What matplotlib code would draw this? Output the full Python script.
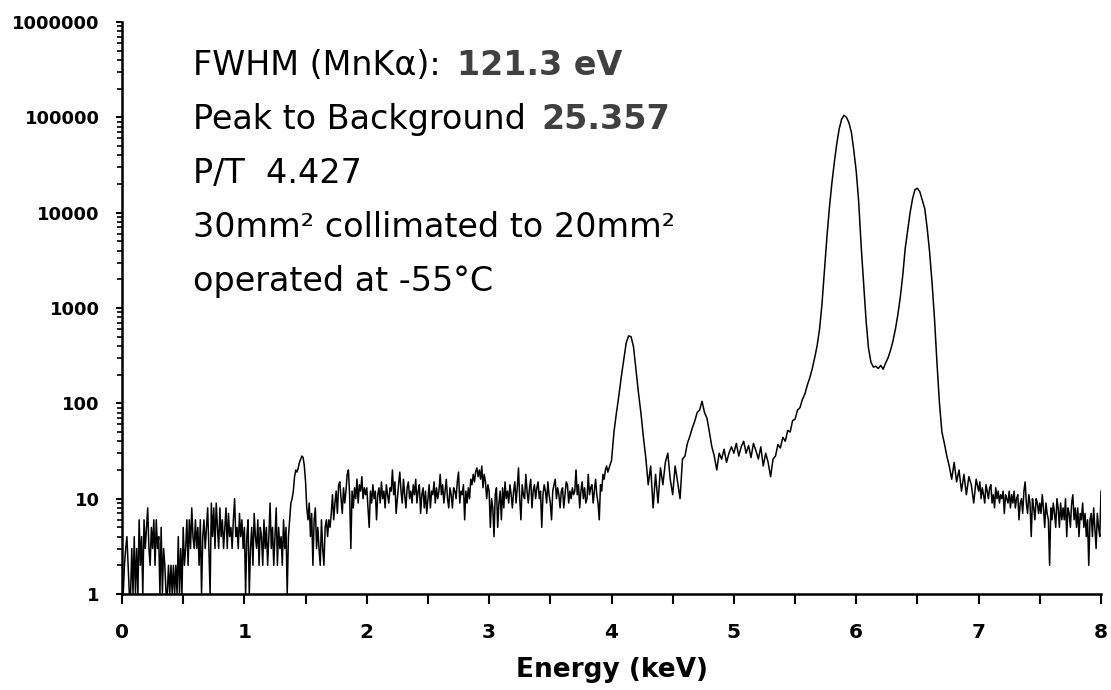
import numpy as np
import matplotlib.pyplot as plt
from matplotlib.ticker import MultipleLocator, LogLocator, FuncFormatter, NullFormatter

# spectrum counts, one list per keV (0.01 keV channels where noisy, 0.02 keV on the peaks)
counts_0 = [1, 1, 2, 3, 4, 2, 1, 1, 3, 1,
            4, 1, 3, 1, 6, 2, 4, 1, 6, 3,
            5, 8, 3, 2, 5, 3, 6, 2, 6, 3,
            4, 1, 5, 1, 3, 2, 1, 1, 2, 1,
            2, 1, 2, 1, 2, 1, 4, 1, 3, 1,
            5, 2, 3, 6, 2, 6, 3, 8, 4, 3,
            6, 3, 5, 2, 6, 1, 4, 6, 3, 5,
            8, 3, 1, 9, 4, 8, 3, 9, 5, 3,
            8, 4, 6, 3, 5, 8, 3, 7, 4, 5,
            3, 6, 10, 4, 5, 3, 7, 4, 6, 3]
counts_1 = [5, 1, 4, 6, 1, 3, 5, 2, 7, 4,
            3, 6, 2, 5, 4, 2, 6, 3, 5, 2,
            4, 9, 3, 5, 2, 4, 8, 2, 5, 3,
            4, 2, 6, 3, 5, 1, 4, 6, 9, 10,
            12, 17, 20, 19, 21, 24, 26, 28, 27, 22,
            15, 8, 6, 9, 4, 7, 2, 6, 8, 3,
            5, 3, 2, 6, 3, 2, 5, 6, 4, 6,
            5, 7, 11, 6, 9, 12, 7, 14, 15, 10,
            7, 13, 9, 12, 18, 20, 11, 3, 12, 8,
            13, 10, 16, 9, 14, 12, 17, 10, 13, 11]
counts_2 = [13, 8, 5, 12, 9, 14, 10, 12, 6, 11,
            13, 9, 15, 10, 12, 8, 14, 11, 9, 13,
            12, 20, 11, 15, 7, 10, 14, 19, 12, 9,
            16, 11, 8, 13, 15, 10, 12, 9, 14, 11,
            16, 9, 12, 14, 7, 11, 13, 8, 12, 7,
            10, 14, 8, 12, 11, 15, 9, 13, 10, 12,
            18, 11, 14, 9, 12, 16, 10, 8, 13, 11,
            8, 13, 12, 10, 15, 19, 9, 12, 11, 14,
            6, 12, 9, 13, 10, 16, 14, 18, 15, 19,
            21, 17, 20, 16, 22, 13, 18, 15, 10, 14]
counts_3 = [12, 5, 10, 8, 4, 11, 13, 5, 9, 12,
            6, 13, 8, 15, 10, 12, 9, 14, 11, 8,
            12, 15, 9, 13, 21, 10, 6, 14, 11, 10,
            18, 12, 9, 13, 16, 8, 12, 14, 10, 13,
            15, 10, 12, 5, 11, 14, 12, 9, 15, 11,
            9, 6, 12, 14, 16, 10, 13, 11, 8, 12,
            13, 8, 11, 15, 14, 9, 12, 10, 13, 11,
            12, 20, 11, 14, 8, 12, 15, 10, 13, 9,
            10, 18, 11, 13, 14, 9, 12, 16, 11, 9,
            6, 14, 12, 18, 16, 20, 22, 19, 21, 23]
counts_4 = [25, 50, 79, 120, 190, 285, 430, 510, 500, 390,
            224, 130, 80, 45, 27, 14, 22, 8, 18, 9,
            21, 14, 24, 30, 16, 11, 22, 15, 10, 26,
            28, 38, 45, 55, 65, 80, 85, 105, 80, 70,
            50, 35, 28, 20, 30, 26, 33, 24, 30, 35]
counts_5 = [30, 38, 28, 35, 40, 30, 36, 27, 38, 32,
            26, 35, 22, 30, 24, 17, 26, 28, 37, 34,
            44, 40, 52, 50, 66, 68, 85, 90, 110, 125,
            155, 185, 230, 300, 400, 600, 1100, 2500, 5500, 11000,
            20000, 33000, 52000, 75000, 95000, 105000, 100000, 88000, 70000, 45000]
counts_6 = [27000, 13000, 4500, 1800, 750, 380, 270, 240, 245, 232,
            250, 228, 265, 300, 360, 450, 600, 850, 1300, 2200,
            4200, 6500, 10000, 14000, 17500, 18000, 16500, 13500, 11000, 6800,
            3800, 1800, 750, 260, 100, 50, 38, 28, 22, 16,
            24, 15, 20, 12, 18, 11, 17, 14, 9, 16]
counts_7 = [12, 15, 10, 13, 11, 9, 14, 12, 10, 13,
            14, 9, 11, 8, 13, 10, 12, 9, 11, 10,
            12, 7, 11, 10, 9, 12, 8, 11, 9, 12,
            8, 10, 11, 6, 9, 10, 7, 12, 15, 9,
            7, 11, 9, 4, 10, 8, 6, 10, 9, 7,
            9, 7, 11, 8, 5, 9, 7, 6, 2, 8,
            6, 9, 7, 5, 10, 8, 5, 9, 6, 8,
            6, 10, 4, 8, 7, 5, 9, 11, 6, 8,
            5, 8, 4, 7, 6, 9, 5, 7, 4, 6,
            2, 6, 7, 4, 8, 5, 3, 7, 5, 4]
counts_8 = [12]

segments = [counts_0, counts_1, counts_2, counts_3, counts_4, counts_5, counts_6, counts_7]
energy = np.concatenate([k + np.arange(len(c)) / len(c) for k, c in enumerate(segments)] + [[8.0]])
counts = np.array(sum(segments, []) + counts_8, dtype=float)

W, H = 1111, 690
fig = plt.figure(figsize=(W / 100, H / 100), dpi=100)
ax = fig.add_axes([122 / W, 96 / H, 979 / W, 572 / H])

ax.plot(energy, counts, color="black", lw=1.1)
ax.set_yscale("log")
ax.set_ylim(1, 1e6)
ax.set_xlim(0, 8)

ax.spines["top"].set_visible(False)
ax.spines["right"].set_visible(False)
ax.spines["left"].set_linewidth(1.8)
ax.spines["bottom"].set_linewidth(1.8)

ax.xaxis.set_major_locator(MultipleLocator(1))
ax.xaxis.set_minor_locator(MultipleLocator(0.5))
ax.xaxis.set_major_formatter(FuncFormatter(lambda v, p: "{:d}".format(int(round(v)))))
ax.yaxis.set_major_locator(LogLocator(base=10, numticks=10))
ax.yaxis.set_minor_locator(LogLocator(base=10, subs=np.arange(2, 10), numticks=10))
ax.yaxis.set_major_formatter(FuncFormatter(lambda v, p: "{:d}".format(int(round(v)))))
ax.yaxis.set_minor_formatter(NullFormatter())

ax.tick_params(axis="x", which="both", direction="out", length=7, width=1.5,
               labelsize=14.5, pad=14)
ax.tick_params(axis="y", which="major", direction="out", length=4, width=1.5,
               labelsize=13, pad=12)
ax.tick_params(axis="y", which="minor", direction="out", length=3.5, width=1.2)
plt.setp(ax.get_xticklabels() + ax.get_yticklabels(), fontweight="bold")

ax.set_xlabel("Energy (keV)", fontsize=19, fontweight="bold", labelpad=11)

# text block in the upper left
lines = ["FWHM (MnK\u03b1):", "Peak to Background", "P/T  4.427",
         "30mm\u00b2 collimated to 20mm\u00b2", "operated at -55\u00b0C"]
bold_parts = {0: "121.3 eV", 1: "25.357"}
fs = 24
x0 = 193 / W
base_y = 75
step = 54
texts = []
for i, s in enumerate(lines):
    t = fig.text(x0, 1 - (base_y + i * step) / H, s, fontsize=fs, va="baseline", color="black")
    texts.append(t)

fig.canvas.draw()
renderer = fig.canvas.get_renderer()
for i, s in bold_parts.items():
    bb = texts[i].get_window_extent(renderer)
    fig.text((bb.x1 + 16) / W, 1 - (base_y + i * step) / H, s, fontsize=fs,
             fontweight="bold", color="#404040", va="baseline")

fig.savefig("out.png", dpi=100)
